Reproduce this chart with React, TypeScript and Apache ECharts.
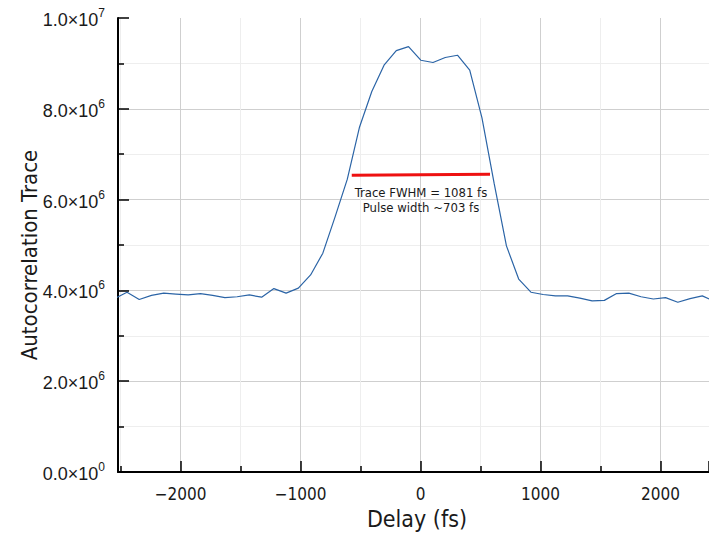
import React, { useEffect, useRef } from "react";
import * as echarts from "echarts";

// Delay positions (fs) of the measured samples
const delays: number[] = [
  -2548, -2446, -2344, -2242, -2140, -2038, -1936, -1834, -1732, -1630,
  -1528, -1426, -1324, -1222, -1120, -1018, -916, -814, -712, -610,
  -508, -406, -304, -202, -100, 2, 104, 206, 308, 410,
  512, 614, 716, 818, 920, 1022, 1124, 1226, 1328, 1430,
  1532, 1634, 1736, 1838, 1940, 2042, 2144, 2246, 2348, 2450,
];
// Autocorrelation trace values (units of 1e6)
const traceMillions: number[] = [
  3.82, 3.96, 3.8, 3.89, 3.94, 3.92, 3.9, 3.93, 3.89, 3.84,
  3.86, 3.9, 3.85, 4.04, 3.94, 4.05, 4.34, 4.82, 5.62, 6.45,
  7.6, 8.38, 8.96, 9.28, 9.37, 9.07, 9.02, 9.13, 9.18, 8.85,
  7.8, 6.35, 4.98, 4.25, 3.96, 3.91, 3.88, 3.88, 3.83, 3.77,
  3.78, 3.93, 3.94, 3.86, 3.81, 3.84, 3.74, 3.82, 3.88, 3.76,
];
// FWHM marker line endpoints
const fwhmDelays: number[] = [-573, 579];
const fwhmLevelMillions: number[] = [6.535, 6.557];
const annotationLines: string[] = ["Trace FWHM = 1081 fs", "Pulse width ~703 fs"];
const xTitle = "Delay (fs)";
const yTitle = "Autocorrelation Trace";

const xMin = -2521;
const xMax = 2404;

const condensed = "'Liberation Sans Narrow', 'DejaVu Sans Condensed', 'DejaVu Sans', sans-serif";

function sciLabel(v: number): string {
  if (v === 0) return "{b|0.0×10}{s|0}";
  const e = Math.floor(Math.log10(Math.abs(v)) + 1e-9);
  const m = v / Math.pow(10, e);
  return `{b|${m.toFixed(1)}×10}{s|${e}}`;
}

export default function App() {
  const ref = useRef<HTMLDivElement>(null);
  useEffect(() => {
    if (!ref.current) return;
    const chart = echarts.init(ref.current, undefined, { renderer: "svg" });
    const traceData = delays.map((d, i) => [d, traceMillions[i] * 1e6]);
    const fwhmData = fwhmDelays.map((d, i) => [d, fwhmLevelMillions[i] * 1e6]);
    chart.setOption({
      animation: false,
      backgroundColor: "#ffffff",
      grid: { left: 118, right: 0, top: 18, bottom: 61, containLabel: false },
      xAxis: {
        type: "value",
        min: xMin,
        max: xMax,
        splitNumber: 5,
        axisLine: { show: true, onZero: false, lineStyle: { color: "#000", width: 2 } },
        axisTick: { show: true, inside: true, length: 11, lineStyle: { color: "#000", width: 1.5 } },
        minorTick: { show: true, splitNumber: 2, length: 6, lineStyle: { color: "#000", width: 1.5 } },
        axisLabel: {
          showMinLabel: false,
          showMaxLabel: false,
          margin: 13,
          fontFamily: condensed,
          fontSize: 17,
          color: "#1a1a1a",
          formatter: (v: number) => (v < 0 ? "\u2212" + Math.abs(v) : String(v)),
        },
        splitLine: { show: true, showMinLine: false, showMaxLine: false, lineStyle: { color: "#cfcfcf", width: 1 } },
        minorSplitLine: { show: true, lineStyle: { color: "#eeeeee", width: 1 } },
      },
      yAxis: {
        type: "value",
        min: 0,
        max: 1e7,
        interval: 2e6,
        axisLine: { show: true, onZero: false, lineStyle: { color: "#000", width: 2 } },
        axisTick: { show: true, inside: true, length: 11, lineStyle: { color: "#000", width: 1.5 } },
        minorTick: { show: true, splitNumber: 2, length: 6, lineStyle: { color: "#000", width: 1.5 } },
        axisLabel: {
          margin: 13,
          color: "#1a1a1a",
          formatter: sciLabel,
          rich: {
            b: { fontFamily: "'Liberation Sans', Arial, sans-serif", fontSize: 18, color: "#1a1a1a", verticalAlign: "bottom", lineHeight: 22 },
            s: { fontFamily: "'Liberation Sans', Arial, sans-serif", fontSize: 12, color: "#1a1a1a", verticalAlign: "top", lineHeight: 22, padding: [0, 0, 8, 0] },
          },
        },
        splitLine: { show: true, showMinLine: false, showMaxLine: false, lineStyle: { color: "#cfcfcf", width: 1 } },
        minorSplitLine: { show: true, lineStyle: { color: "#eeeeee", width: 1 } },
      },
      series: [
        {
          type: "line",
          data: traceData,
          symbol: "none",
          clip: true,
          lineStyle: { color: "#2b64a6", width: 1.2 },
          z: 3,
        },
        {
          type: "line",
          data: fwhmData,
          symbol: "none",
          lineStyle: { color: "#ee1111", width: 3 },
          z: 4,
        },
      ],
      graphic: [
        {
          type: "text",
          x: 421,
          y: 185,
          z: 10,
          style: {
            text: annotationLines.join("\n"),
            font: `13px ${condensed}`,
            fill: "#1a1a1a",
            align: "center",
            verticalAlign: "top",
            lineHeight: 15,
          },
        },
        {
          type: "text",
          x: 417,
          y: 519,
          z: 10,
          style: {
            text: xTitle,
            font: `23px ${condensed}`,
            fill: "#1a1a1a",
            align: "center",
            verticalAlign: "middle",
          },
        },
        {
          type: "text",
          x: 29,
          y: 255,
          rotation: Math.PI / 2,
          z: 10,
          style: {
            text: yTitle,
            font: `22px ${condensed}`,
            fill: "#1a1a1a",
            align: "center",
            verticalAlign: "middle",
          },
        },
      ],
    });
    return () => chart.dispose();
  }, []);
  return <div ref={ref} style={{ width: 709, height: 533, position: "absolute", left: 0, top: 0 }} />;
}
